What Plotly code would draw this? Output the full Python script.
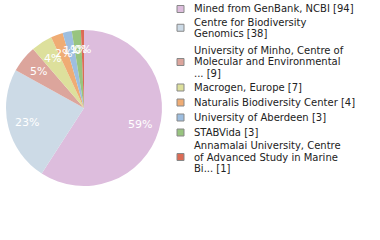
import math
import plotly.graph_objects as go

labels = ["Mined from GenBank, NCBI", "Centre for Biodiversity Genomics",
          "University of Minho, Centre of Molecular and Environmental ...",
          "Macrogen, Europe", "Naturalis Biodiversity Center", "University of Aberdeen",
          "STABVida", "Annamalai University, Centre of Advanced Study in Marine Bi..."]
legend_lines = [
    ["Mined from GenBank, NCBI [94]"],
    ["Centre for Biodiversity", "Genomics [38]"],
    ["University of Minho, Centre of", "Molecular and Environmental", "... [9]"],
    ["Macrogen, Europe [7]"],
    ["Naturalis Biodiversity Center [4]"],
    ["University of Aberdeen [3]"],
    ["STABVida [3]"],
    ["Annamalai University, Centre", "of Advanced Study in Marine", "Bi... [1]"],
]
values = [94, 38, 9, 7, 4, 3, 3, 1]
colors = ["#DDBDDD", "#CCDAE6", "#DCA59C", "#DDE09C", "#EFAC74", "#9DBEE0", "#98C47F", "#DC6B55"]

W, H = 380, 240
cx, cy, R = 84, 108, 78
FONT = "DejaVu Sans"
# layout: pixel y of the first text line of each legend item
first_line_y = [9, 22, 50.5, 87.5, 102.5, 117.5, 132.5, 145.5]
line_h = 11.5

fig = go.Figure()
fig.add_trace(go.Pie(
    labels=labels, values=values, sort=False, direction="clockwise", rotation=0,
    marker=dict(colors=colors, line=dict(width=0)),
    textinfo="none", hoverinfo="skip", showlegend=False,
    domain=dict(x=[(cx - R) / W, (cx + R) / W], y=[(H - cy - R) / H, (H - cy + R) / H]),
))

annotations = []
shapes = []
total = sum(values)
cum = 0
for v in values:
    frac = v / total
    mid = (cum + frac / 2) * 2 * math.pi
    cum += frac
    r = 0.75 * R
    px = cx + r * math.sin(mid)
    py = cy - r * math.cos(mid)
    annotations.append(dict(x=px / W, y=1 - py / H, xref="paper", yref="paper",
                            text=f"{int(frac * 100)}%", showarrow=False,
                            font=dict(family=FONT, size=11, color="white"),
                            xanchor="center", yanchor="middle"))

sq = 7
tx = 192
for lines, col, first in zip(legend_lines, colors, first_line_y):
    n = len(lines)
    for i, t in enumerate(lines):
        ly = first + i * line_h
        annotations.append(dict(x=tx / W, y=1 - ly / H, xref="paper", yref="paper",
                                text=t, showarrow=False, xanchor="left", yanchor="middle",
                                font=dict(family=FONT, size=10, color="#222222")))
    mid_y = first + (n - 1) * line_h / 2
    shapes.append(dict(type="rect", xref="paper", yref="paper",
                       x0=177 / W, x1=(177 + sq) / W,
                       y0=1 - (mid_y - sq / 2) / H, y1=1 - (mid_y + sq / 2) / H,
                       fillcolor=col, line=dict(color="#888888", width=1)))

fig.update_layout(width=W, height=H, margin=dict(l=0, r=0, t=0, b=0),
                  paper_bgcolor="white", plot_bgcolor="white",
                  annotations=annotations, shapes=shapes)
fig.write_html("out.html")
